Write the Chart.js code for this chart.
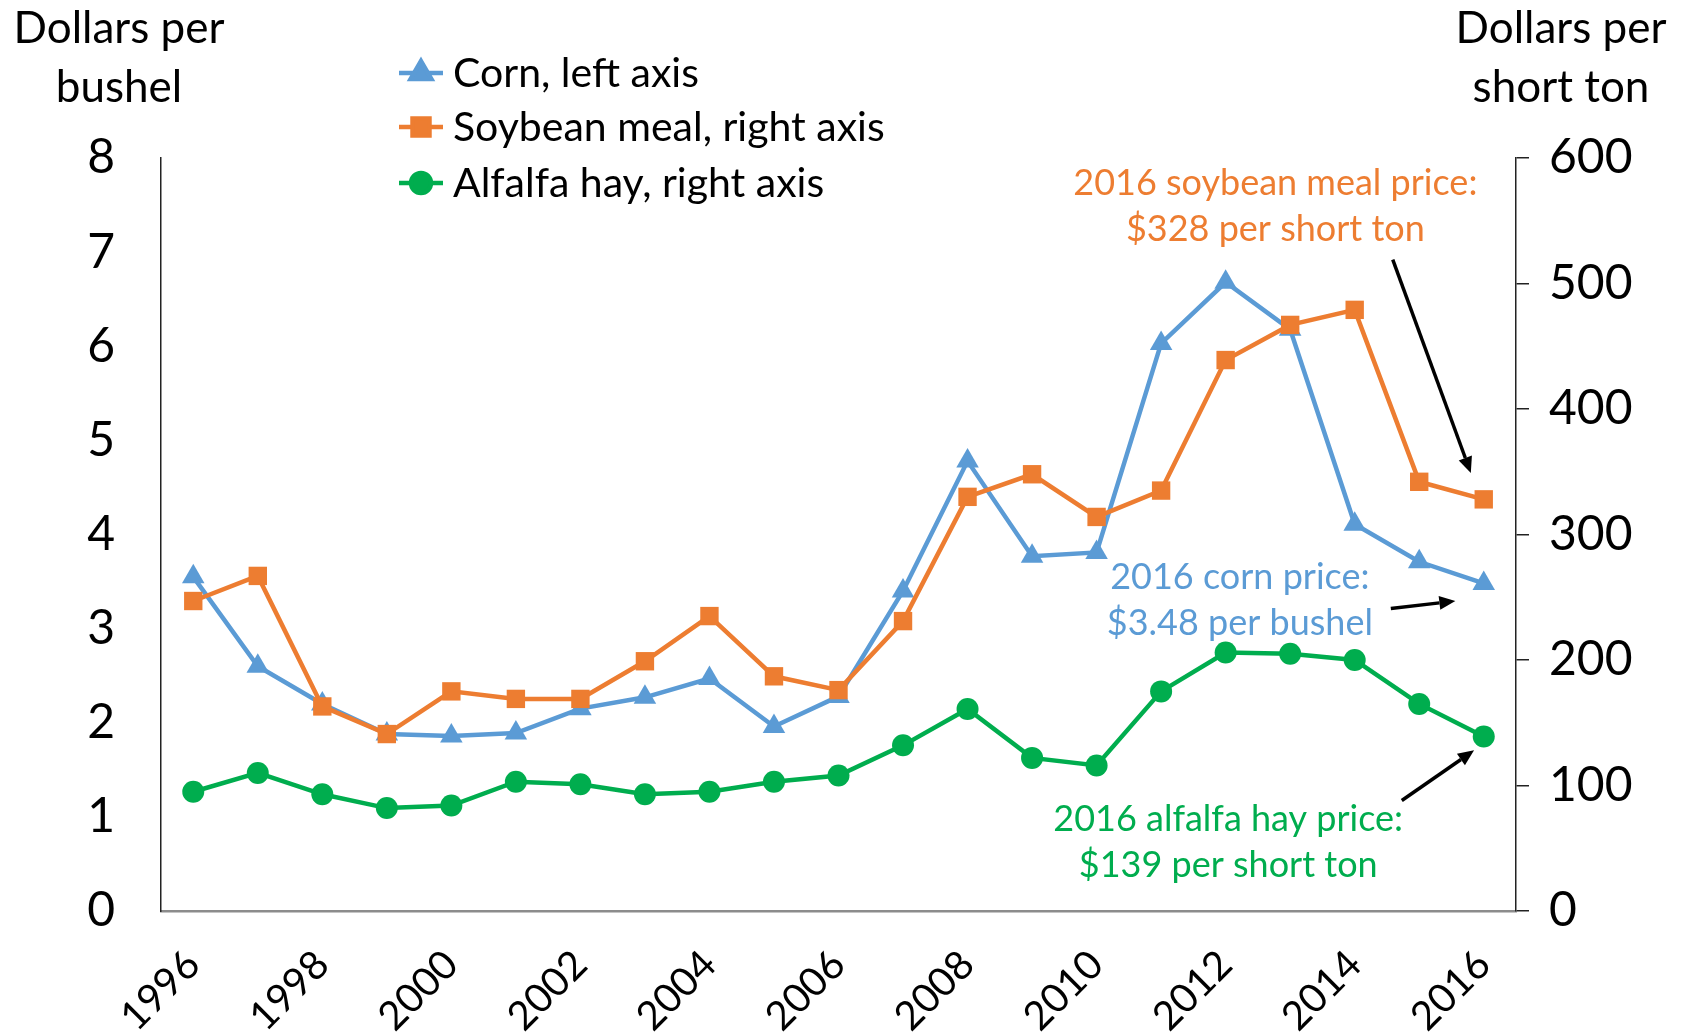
<!DOCTYPE html>
<html>
<head>
<meta charset="utf-8">
<title>Feed prices</title>
<script src="https://cdn.jsdelivr.net/npm/chart.js@4.4.1/dist/chart.umd.min.js"></script>
<style>
  body { margin: 0; background: #fff; }
  canvas { display: block; }
</style>
</head>
<body>
<canvas id="priceChart" width="1684" height="1034"></canvas>
<script>
// --- Data ---
const years = ["1996", "1997", "1998", "1999", "2000", "2001", "2002", "2003", "2004", "2005", "2006",
               "2007", "2008", "2009", "2010", "2011", "2012", "2013", "2014", "2015", "2016"];

// dollars per bushel (left axis)
const cornPrice = [3.55, 2.60, 2.20, 1.88, 1.86, 1.89, 2.15, 2.27, 2.47, 1.96, 2.28,
                   3.40, 4.78, 3.77, 3.81, 6.03, 6.68, 6.18, 4.11, 3.71, 3.48];

// dollars per short ton (right axis)
const soyMealPrice = [247, 267, 163, 141, 175, 169, 169, 199, 235, 187, 176,
                      231, 330, 348, 314, 335, 439, 467, 479, 342, 328];
const alfalfaPrice = [95, 110, 93, 82, 84, 103, 101, 93, 95, 103, 108,
                      132, 161, 122, 116, 175, 206, 205, 200, 165, 139];

const leftTicks = [0, 1, 2, 3, 4, 5, 6, 7, 8];
const rightTicks = [0, 100, 200, 300, 400, 500, 600];

const seriesNames = ["Corn, left axis", "Soybean meal, right axis", "Alfalfa hay, right axis"];

// --- Styles ---
const BLUE = "#5B9BD5";
const ORANGE = "#ED7D31";
const GREEN = "#00AD4E";
const FONT = "Lato, 'DejaVu Sans', sans-serif";

Chart.defaults.font.family = FONT;
Chart.defaults.color = "#000";

// notes next to the 2016 points, positioned in data space (x = year index, y = right axis value)
const notes = [
    {lines: ["2016 soybean meal price:", "$328 per short ton"], color: ORANGE, x: 16.77, y: [580, 543],
     arrow: [18.59, 519, 19.80, 349]},
    {lines: ["2016 corn price:", "$3.48 per bushel"], color: BLUE, x: 16.22, y: [266, 229],
     arrow: [18.56, 241, 19.56, 247]},
    {lines: ["2016 alfalfa hay price:", "$139 per short ton"], color: GREEN, x: 16.04, y: [73, 36],
     arrow: [18.73, 88, 19.85, 128]}
];

function drawArrow(ctx, x1, y1, x2, y2){
    let ang = Math.atan2(y2 - y1, x2 - x1);
    let head = 16, half = 7;
    let bx = x2 - Math.cos(ang) * head, by = y2 - Math.sin(ang) * head;
    ctx.strokeStyle = "#000";
    ctx.fillStyle = "#000";
    ctx.lineWidth = 3.5;
    ctx.beginPath();
    ctx.moveTo(x1, y1);
    ctx.lineTo(bx, by);
    ctx.stroke();
    ctx.beginPath();
    ctx.moveTo(x2, y2);
    ctx.lineTo(bx + Math.sin(ang) * half, by - Math.cos(ang) * half);
    ctx.lineTo(bx - Math.sin(ang) * half, by + Math.cos(ang) * half);
    ctx.closePath();
    ctx.fill();
}

// --- Extras: axis titles, legend, notes ---
const extrasPlugin = {
    id: "extras",
    afterDraw(chart){
        let ctx = chart.ctx;
        let xs = chart.scales.x, yr = chart.scales.yRight;
        ctx.save();

        // axis titles
        ctx.fillStyle = "#000";
        ctx.font = "44px " + FONT;
        ctx.textAlign = "center";
        ctx.textBaseline = "middle";
        ctx.fillText("Dollars per", 119, 29);
        ctx.fillText("bushel", 119, 88);
        ctx.fillText("Dollars per", 1561, 29);
        ctx.fillText("short ton", 1561, 88);

        // legend
        let ys = [73, 127, 183];
        chart.data.datasets.slice().sort((a, b) => a.legendIndex - b.legendIndex).forEach((ds, i) => {
            let y = ys[i];
            ctx.strokeStyle = ds.borderColor;
            ctx.fillStyle = ds.borderColor;
            ctx.lineWidth = 4.5;
            ctx.beginPath();
            ctx.moveTo(399, y);
            ctx.lineTo(443, y);
            ctx.stroke();
            Chart.helpers.drawPoint(ctx, {pointStyle: ds.pointStyle, radius: ds.pointRadius - 1, rotation: 0, borderWidth: 1}, 421, y);
            ctx.fillStyle = "#000";
            ctx.font = "41px " + FONT;
            ctx.textAlign = "left";
            ctx.textBaseline = "middle";
            ctx.fillText(ds.label, 453, y + 1);
        });

        // notes with arrows
        notes.forEach(n => {
            ctx.fillStyle = n.color;
            ctx.font = "36px " + FONT;
            ctx.textAlign = "center";
            ctx.textBaseline = "middle";
            n.lines.forEach((t, k) => ctx.fillText(t, xs.getPixelForValue(n.x), yr.getPixelForValue(n.y[k])));
            let a = n.arrow;
            drawArrow(ctx, xs.getPixelForValue(a[0]), yr.getPixelForValue(a[1]),
                           xs.getPixelForValue(a[2]), yr.getPixelForValue(a[3]));
        });
        ctx.restore();
    }
};

// --- Chart ---
let ctx = document.getElementById("priceChart").getContext("2d");

new Chart(ctx, {
    type: "line",
    data: {
        labels: years,
        datasets: [
            {label: seriesNames[1], data: soyMealPrice, yAxisID: "yRight", legendIndex: 1,
             borderColor: ORANGE, backgroundColor: ORANGE, pointStyle: "rect", pointRadius: 13, order: 0},
            {label: seriesNames[0], data: cornPrice, yAxisID: "yLeft", legendIndex: 0,
             borderColor: BLUE, backgroundColor: BLUE, pointStyle: "triangle", pointRadius: 13, order: 1},
            {label: seriesNames[2], data: alfalfaPrice, yAxisID: "yRight", legendIndex: 2,
             borderColor: GREEN, backgroundColor: GREEN, pointStyle: "circle", pointRadius: 11, order: 2}
        ].map(d => Object.assign(d, {borderWidth: 4.5, pointBorderWidth: 0, tension: 0, fill: false}))
    },
    options: {
        responsive: false,
        animation: false,
        layout: {padding: {top: 158, left: 0, right: 0, bottom: 0}},
        plugins: {legend: {display: false}, tooltip: {enabled: false}},
        scales: {
            x: {
                type: "category",
                offset: true,
                grid: {display: false, drawTicks: false},
                border: {display: true, color: "#8c8c8c", width: 2.5},
                ticks: {
                    autoSkip: false,
                    maxRotation: 45,
                    minRotation: 45,
                    padding: 30,
                    font: {size: 40},
                    callback: function(val, i){ return i % 2 === 0 ? this.getLabelForValue(val) : ""; }
                },
                afterFit: s => { s.height = 123; }
            },
            yLeft: {
                position: "left",
                min: 0,
                max: 8,
                afterBuildTicks: s => { s.ticks = leftTicks.map(v => ({value: v})); },
                grid: {display: false, drawTicks: false},
                border: {display: true, color: "#222", width: 1.5},
                ticks: {padding: 46, font: {size: 48}},
                afterFit: s => { s.width = 161; }
            },
            yRight: {
                position: "right",
                min: 0,
                max: 600,
                afterBuildTicks: s => { s.ticks = rightTicks.map(v => ({value: v})); },
                grid: {display: true, drawOnChartArea: false, drawTicks: true, tickLength: 13, color: "#222", lineWidth: 1.5},
                border: {display: true, color: "#222", width: 1.5},
                ticks: {padding: 20, font: {size: 48}},
                afterFit: s => { s.width = 168; }
            }
        }
    },
    plugins: [extrasPlugin]
});
</script>
</body>
</html>
